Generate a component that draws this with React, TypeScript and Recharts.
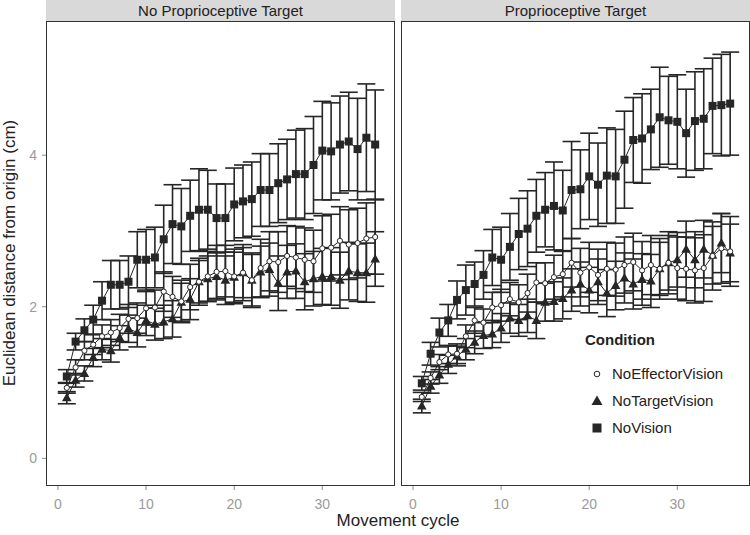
import React from 'react';
import { ComposedChart, Line, XAxis, YAxis, ErrorBar } from 'recharts';

const FONT = '"Liberation Sans", Arial, Helvetica, sans-serif';

const cycles = [
  1, 2, 3, 4, 5, 6, 7, 8, 9, 10, 11, 12, 13, 14, 15, 16, 17, 18,
  19, 20, 21, 22, 23, 24, 25, 26, 27, 28, 29, 30, 31, 32, 33, 34, 35, 36,
];
const xTicks = [0, 10, 20, 30];
const yTicks = [0, 2, 4];
const panelTitles = ['No Proprioceptive Target', 'Proprioceptive Target'];
const conditions = ['NoEffectorVision', 'NoTargetVision', 'NoVision'];

// No Proprioceptive Target
const leftEffector = [0.93, 1.2, 1.42, 1.5, 1.61, 1.66, 1.72, 1.84, 1.85, 1.98, 1.99, 2.2, 2.13, 2.07, 2.26, 2.33, 2.4, 2.46, 2.47, 2.4, 2.45, 2.35, 2.51, 2.6, 2.59, 2.67, 2.65, 2.62, 2.6, 2.77, 2.78, 2.87, 2.82, 2.84, 2.9, 2.92];
const leftEffectorSe = [0.07, 0.1, 0.12, 0.13, 0.15, 0.17, 0.18, 0.19, 0.2, 0.22, 0.23, 0.26, 0.27, 0.28, 0.3, 0.31, 0.33, 0.35, 0.34, 0.36, 0.37, 0.36, 0.38, 0.39, 0.4, 0.4, 0.41, 0.42, 0.41, 0.43, 0.44, 0.45, 0.46, 0.46, 0.47, 0.49];
const leftTarget = [0.8, 1.03, 1.12, 1.33, 1.44, 1.42, 1.59, 1.71, 1.66, 1.82, 1.77, 1.8, 1.84, 2.06, 2.1, 2.33, 2.37, 2.4, 2.35, 2.39, 2.45, 2.35, 2.46, 2.49, 2.31, 2.46, 2.47, 2.33, 2.37, 2.4, 2.4, 2.35, 2.47, 2.45, 2.45, 2.63];
const leftTargetSe = [0.08, 0.09, 0.1, 0.12, 0.14, 0.15, 0.16, 0.18, 0.19, 0.2, 0.21, 0.22, 0.24, 0.25, 0.27, 0.28, 0.3, 0.31, 0.32, 0.33, 0.33, 0.34, 0.34, 0.35, 0.36, 0.35, 0.36, 0.37, 0.36, 0.37, 0.38, 0.37, 0.38, 0.38, 0.39, 0.36];
const leftNoVision = [1.08, 1.54, 1.69, 1.83, 2.08, 2.29, 2.29, 2.33, 2.62, 2.62, 2.65, 2.89, 3.09, 3.06, 3.2, 3.28, 3.28, 3.17, 3.17, 3.35, 3.39, 3.42, 3.54, 3.54, 3.63, 3.68, 3.75, 3.75, 3.87, 4.06, 4.05, 4.14, 4.18, 4.08, 4.23, 4.14];
const leftNoVisionSe = [0.09, 0.11, 0.15, 0.19, 0.25, 0.32, 0.32, 0.34, 0.37, 0.4, 0.4, 0.45, 0.52, 0.5, 0.47, 0.54, 0.52, 0.45, 0.45, 0.48, 0.48, 0.49, 0.48, 0.48, 0.52, 0.53, 0.58, 0.6, 0.64, 0.65, 0.64, 0.64, 0.65, 0.67, 0.71, 0.72];

// Proprioceptive Target
const rightEffector = [0.81, 1.06, 1.27, 1.37, 1.38, 1.61, 1.82, 1.79, 1.99, 2.02, 2.1, 2.06, 2.18, 2.32, 2.31, 2.39, 2.43, 2.58, 2.45, 2.52, 2.42, 2.5, 2.49, 2.55, 2.59, 2.48, 2.55, 2.5, 2.58, 2.51, 2.5, 2.48, 2.51, 2.67, 2.77, 2.73];
const rightEffectorSe = [0.06, 0.08, 0.1, 0.12, 0.13, 0.15, 0.17, 0.18, 0.2, 0.21, 0.22, 0.23, 0.25, 0.26, 0.27, 0.29, 0.3, 0.32, 0.32, 0.33, 0.34, 0.35, 0.35, 0.37, 0.38, 0.38, 0.39, 0.4, 0.41, 0.41, 0.42, 0.43, 0.44, 0.45, 0.46, 0.46];
const rightTarget = [0.69, 0.95, 1.1, 1.24, 1.35, 1.44, 1.53, 1.62, 1.64, 1.72, 1.85, 1.82, 1.88, 1.82, 2.06, 2.07, 2.11, 2.22, 2.3, 2.22, 2.33, 2.18, 2.28, 2.38, 2.3, 2.36, 2.34, 2.5, 2.58, 2.62, 2.76, 2.62, 2.76, 2.68, 2.84, 2.71];
const rightTargetSe = [0.09, 0.09, 0.11, 0.12, 0.13, 0.14, 0.15, 0.17, 0.18, 0.19, 0.2, 0.21, 0.22, 0.24, 0.25, 0.26, 0.27, 0.28, 0.29, 0.3, 0.3, 0.31, 0.32, 0.33, 0.33, 0.34, 0.35, 0.35, 0.36, 0.36, 0.37, 0.37, 0.38, 0.38, 0.39, 0.38];
const rightNoVision = [0.99, 1.38, 1.66, 1.82, 2.09, 2.22, 2.3, 2.42, 2.65, 2.62, 2.79, 2.96, 3.03, 3.2, 3.28, 3.33, 3.27, 3.54, 3.55, 3.72, 3.61, 3.73, 3.72, 3.94, 4.2, 4.22, 4.34, 4.5, 4.46, 4.44, 4.29, 4.45, 4.48, 4.65, 4.66, 4.68];
const rightNoVisionSe = [0.09, 0.15, 0.19, 0.21, 0.25, 0.33, 0.29, 0.32, 0.37, 0.43, 0.44, 0.47, 0.5, 0.48, 0.49, 0.58, 0.53, 0.64, 0.52, 0.57, 0.55, 0.63, 0.62, 0.64, 0.56, 0.59, 0.53, 0.66, 0.58, 0.62, 0.58, 0.65, 0.66, 0.63, 0.67, 0.68];

const makeRows = (ev: number[], evSe: number[], tv: number[], tvSe: number[], nv: number[], nvSe: number[]) =>
  cycles.map((c, i) => ({ cycle: c, ev: ev[i], evSe: evSe[i], tv: tv[i], tvSe: tvSe[i], nv: nv[i], nvSe: nvSe[i] }));

const leftRows = makeRows(leftEffector, leftEffectorSe, leftTarget, leftTargetSe, leftNoVision, leftNoVisionSe);
const rightRows = makeRows(rightEffector, rightEffectorSe, rightTarget, rightTargetSe, rightNoVision, rightNoVisionSe);

const X_DOMAIN = [-1.36, 38.25];
const Y_DOMAIN = [-0.365, 5.77];
const PANEL_W = 349;
const PANEL_TOP = 21;
const PANEL_H = 465;
const INK = '#262626';

const SquareDot = (p: any) => (
  <rect key={`sq-${p.index}`} x={p.cx - 4} y={p.cy - 4} width={8} height={8} fill={INK} />
);
const TriangleDot = (p: any) => (
  <polygon key={`tr-${p.index}`} points={`${p.cx},${p.cy - 5} ${p.cx - 4.8},${p.cy + 3.5} ${p.cx + 4.8},${p.cy + 3.5}`} fill={INK} />
);
const CircleDot = (p: any) => (
  <circle key={`ci-${p.index}`} cx={p.cx} cy={p.cy} r={2.6} fill="#fff" stroke={INK} strokeWidth={1} />
);

const Panel = ({ title, rows, left, showY }: { title: string; rows: any[]; left: number; showY: boolean }) => {
  const plotLeft = showY ? 46 : 0;
  const width = plotLeft + PANEL_W;
  const errProps = { width: 9, stroke: INK, strokeWidth: 1.6, direction: 'y' as const, isAnimationActive: false };
  return (
    <div style={{ position: 'absolute', left, top: 0, width, height: 535 }}>
      <div
        style={{
          position: 'absolute', left: plotLeft, top: 0, width: PANEL_W, height: PANEL_TOP,
          background: '#d9d9d9', color: '#222', fontFamily: FONT, fontSize: 15,
          lineHeight: `${PANEL_TOP}px`, textAlign: 'center',
        }}
      >
        {title}
      </div>
      <ComposedChart width={width} height={535} data={rows} margin={{ top: PANEL_TOP, right: 0, bottom: 0, left: 0 }}>
        <XAxis
          type="number" dataKey="cycle" domain={X_DOMAIN} ticks={xTicks} allowDataOverflow
          height={49} axisLine={false} tickSize={4} tickMargin={9}
          tickLine={{ stroke: '#8a8a8a' }} tick={{ fill: '#9a9a9a', fontSize: 14, fontFamily: FONT }}
        />
        <YAxis
          type="number" domain={Y_DOMAIN} ticks={yTicks} allowDataOverflow hide={!showY}
          width={plotLeft} axisLine={false} tickSize={4} tickMargin={5}
          tickLine={{ stroke: '#8a8a8a' }} tick={{ fill: '#9a9a9a', fontSize: 14, fontFamily: FONT }}
        />
        <Line dataKey="nv" type="linear" stroke={INK} strokeWidth={1} dot={SquareDot} activeDot={false} isAnimationActive={false}>
          <ErrorBar dataKey="nvSe" {...errProps} />
        </Line>
        <Line dataKey="tv" type="linear" stroke={INK} strokeWidth={1} dot={TriangleDot} activeDot={false} isAnimationActive={false}>
          <ErrorBar dataKey="tvSe" {...errProps} />
        </Line>
        <Line dataKey="ev" type="linear" stroke={INK} strokeWidth={1} dot={CircleDot} activeDot={false} isAnimationActive={false}>
          <ErrorBar dataKey="evSe" {...errProps} />
        </Line>
      </ComposedChart>
      <div
        style={{
          position: 'absolute', left: plotLeft, top: PANEL_TOP, width: PANEL_W, height: PANEL_H,
          border: '1.5px solid #333', boxSizing: 'border-box', pointerEvents: 'none',
        }}
      />
    </div>
  );
};

const legendSymbols = [
  <circle cx={7} cy={7} r={2.8} fill="#fff" stroke={INK} strokeWidth={1} />,
  <polygon points="7,1.5 1.5,11 12.5,11" fill={INK} />,
  <rect x={2.5} y={2.5} width={9} height={9} fill={INK} />,
];

export default function App() {
  return (
    <div style={{ position: 'absolute', left: 0, top: 0, width: 750, height: 535, background: '#fff', fontFamily: FONT }}>
      <Panel title={panelTitles[0]} rows={leftRows} left={0} showY />
      <Panel title={panelTitles[1]} rows={rightRows} left={401} showY={false} />
      <div
        style={{
          position: 'absolute', left: 10, top: 253, transform: 'translate(-50%, -50%) rotate(-90deg)',
          whiteSpace: 'nowrap', fontSize: 17, color: '#222',
        }}
      >
        Euclidean distance from origin (cm)
      </div>
      <div
        style={{
          position: 'absolute', left: 398, top: 521, transform: 'translate(-50%, -50%)',
          whiteSpace: 'nowrap', fontSize: 17, color: '#222',
        }}
      >
        Movement cycle
      </div>
      <div style={{ position: 'absolute', left: 585, top: 331, fontSize: 15, fontWeight: 'bold', color: '#222' }}>Condition</div>
      {conditions.map((c, i) => (
        <div key={c} style={{ position: 'absolute', left: 590, top: 365 + i * 27, display: 'flex', alignItems: 'center', fontSize: 15, color: '#222' }}>
          <svg width={14} height={14} style={{ marginRight: 8 }}>{legendSymbols[i]}</svg>
          {c}
        </div>
      ))}
    </div>
  );
}
